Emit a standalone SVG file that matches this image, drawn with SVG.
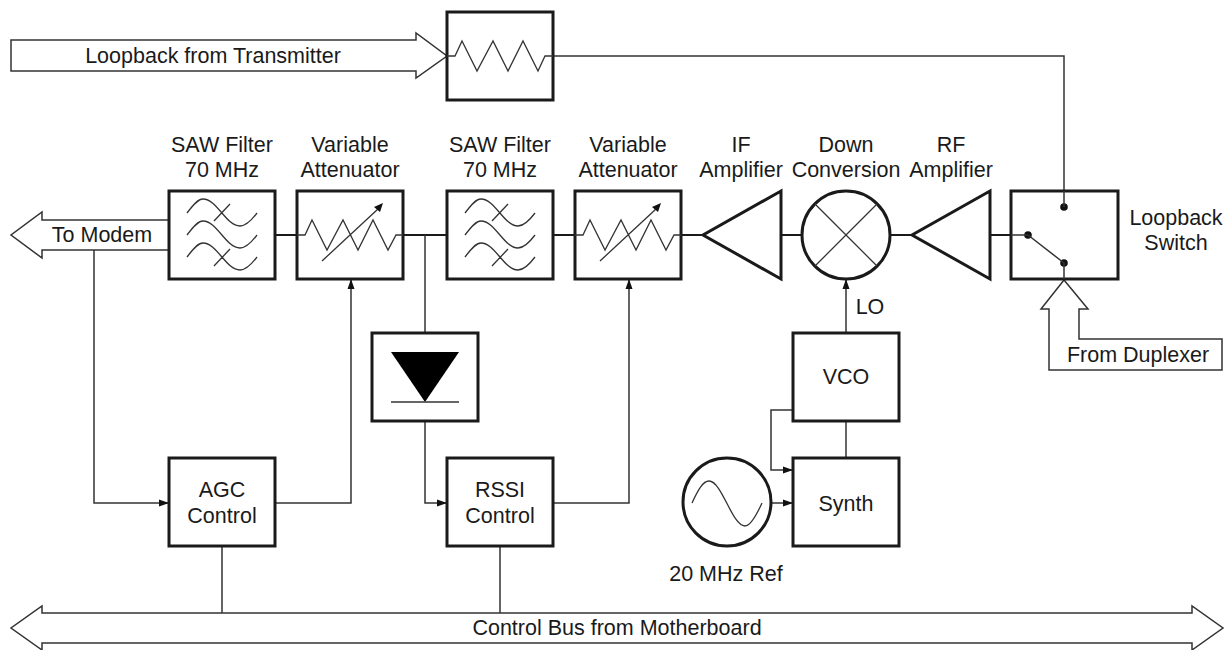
<svg xmlns="http://www.w3.org/2000/svg" width="1230" height="650" viewBox="0 0 1230 650">
<style>
text{font-family:"Liberation Sans",Arial,sans-serif;font-size:21.5px;fill:#1a1a1a;text-anchor:middle}
.b{fill:#fff;stroke:#1a1a1a;stroke-width:3}
.l{fill:none;stroke:#333;stroke-width:1.5}
.w{fill:none;stroke:#1a1a1a;stroke-width:2.2}
.t{fill:none;stroke:#333;stroke-width:1.3}
.a{fill:#fff;stroke:#333;stroke-width:1.5}
</style>
<defs>
<marker id="ah" markerUnits="userSpaceOnUse" markerWidth="10" markerHeight="8" refX="10" refY="4" orient="auto"><path d="M0 0.5L10 4L0 7.5Z" fill="#111"/></marker>
<g id="sawg"><rect class="b" width="106" height="88"/>
<path class="t" d="M18 22C24 14 29 8 34 8C48 8 57 35 71 35C76 35 82 30 88 22M18 44C24 36 29 30 34 30C48 30 57 57 71 57C76 57 82 52 88 44M18 66C24 58 29 52 34 52C48 52 57 79 71 79C76 79 82 74 88 66M45 30L61 13M45 75L61 58"/></g>
<g id="attg"><rect class="b" width="106" height="88"/>
<path class="t" d="M0 44H8L15 29L30 59L46 29L61 59L76 29L91 59L99 44H106M25 70L81 18"/><path d="M86 12L77 16L83 21Z" fill="#111"/></g>
</defs>
<g id="connectors">
<path class="l" d="M553 56H1064V207"/>
<path class="w" d="M275 235H297M403 235H447M553 235H575M681 235H703M781 235H802M890 235H912M990 235H1028"/>
<path class="l" d="M425 235V333"/>
<path class="l" d="M94 250V503H169" marker-end="url(#ah)"/>
<path class="l" d="M275 503H351V279" marker-end="url(#ah)"/>
<path class="l" d="M425 421V503H447" marker-end="url(#ah)"/>
<path class="l" d="M553 503H629V279" marker-end="url(#ah)"/>
<path class="l" d="M846 333V279" marker-end="url(#ah)"/>
<path class="l" d="M846 421V458"/>
<path class="l" d="M793 410H771V470H793" marker-end="url(#ah)"/>
<path class="l" d="M771 503H793" marker-end="url(#ah)"/>
<path class="l" d="M222 546V613M500 546V613"/>
</g>
<g id="loopback-tx"><path class="a" d="M11 40H416V33L447 56L416 78V71H11Z"/><text x="213" y="63">Loopback from Transmitter</text></g>
<g id="to-modem"><path class="a" d="M169 220H42V212L11 235L42 258V250H169"/><text x="102" y="242">To Modem</text></g>
<g id="bus"><path class="a" d="M42 613V606L11 628L42 650V643H1192V650L1223 628L1192 606V613Z"/><text x="617" y="635">Control Bus from Motherboard</text></g>
<g id="from-dup"><path class="a" d="M1064 280L1041 309H1049V370H1222V339H1079V309H1088Z"/><text x="1138" y="362">From Duplexer</text></g>
<g id="attenuator-top"><rect class="b" x="447" y="12" width="106" height="88"/><path class="t" d="M447 56H455L462 41L477 71L493 41L508 71L523 41L538 71L545 56H553"/></g>
<g id="saw1"><use href="#sawg" x="169" y="191"/><text x="222" y="152">SAW Filter</text><text x="222" y="177">70 MHz</text></g>
<g id="att1"><use href="#attg" x="297" y="191"/><text x="350" y="152">Variable</text><text x="350" y="177">Attenuator</text></g>
<g id="saw2"><use href="#sawg" x="447" y="191"/><text x="500" y="152">SAW Filter</text><text x="500" y="177">70 MHz</text></g>
<g id="att2"><use href="#attg" x="575" y="191"/><text x="628" y="152">Variable</text><text x="628" y="177">Attenuator</text></g>
<g id="if-amp"><path class="b" d="M781 191V279L703 235Z"/><text x="741" y="152">IF</text><text x="741" y="177">Amplifier</text></g>
<g id="mixer"><circle class="b" cx="846" cy="235" r="44"/><path class="t" d="M815 204L877 266M877 204L815 266"/><text x="846" y="152">Down</text><text x="846" y="177">Conversion</text></g>
<g id="rf-amp"><path class="b" d="M990 191V279L912 235Z"/><text x="951" y="152">RF</text><text x="951" y="177">Amplifier</text></g>
<g id="switch"><rect class="b" x="1011" y="191" width="107" height="88"/><g fill="#111"><circle cx="1064" cy="207" r="3.8"/><circle cx="1028" cy="235" r="3.8"/><circle cx="1064" cy="263" r="3.8"/></g><path class="l" d="M1028 235L1064 263V279M1011 235H1028M1064 191V207"/><text x="1176" y="225">Loopback</text><text x="1176" y="250">Switch</text></g>
<g id="detector"><rect class="b" x="372" y="333" width="106" height="88"/><path d="M391 352H459L425 402Z" fill="#000"/><path class="l" d="M391 402H459"/></g>
<g id="agc"><rect class="b" x="169" y="458" width="106" height="88"/><text x="222" y="497">AGC</text><text x="222" y="523">Control</text></g>
<g id="rssi"><rect class="b" x="447" y="458" width="106" height="88"/><text x="500" y="497">RSSI</text><text x="500" y="523">Control</text></g>
<g id="vco"><rect class="b" x="793" y="333" width="106" height="88"/><text x="846" y="384">VCO</text></g>
<g id="synth"><rect class="b" x="793" y="458" width="106" height="88"/><text x="846" y="511">Synth</text></g>
<g id="osc"><circle class="b" cx="727" cy="502" r="44"/><path class="t" d="M692 503C698 490 703 481 709 481C722 481 732 526 745 526C751 526 757 514 762 503"/><text x="726" y="581">20 MHz Ref</text></g>
<text x="870" y="314">LO</text>
</svg>
